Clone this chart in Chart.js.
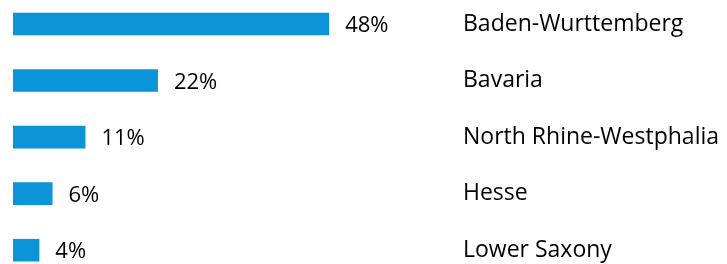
<!DOCTYPE html>
<html>
<head>
<meta charset="utf-8">
<script src="https://cdn.jsdelivr.net/npm/chart.js@4"></script>
<style>
html,body{margin:0;padding:0;background:#fff;}
#wrap{width:727px;height:264px;}
</style>
</head>
<body>
<div id="wrap"><canvas id="c" width="727" height="264"></canvas></div>
<script>
const categories = ["Baden-Wurttemberg", "Bavaria", "North Rhine-Westphalia", "Hesse", "Lower Saxony"];
const shares = [48, 22, 11, 6, 4];
const valueLabels = ["48%", "22%", "11%", "6%", "4%"];

const FONT = "'Open Sans', sans-serif";

const valueLabelPlugin = {
  id: 'valueLabels',
  afterDatasetsDraw(chart) {
    const ctx = chart.ctx;
    const meta = chart.getDatasetMeta(0);
    ctx.save();
    ctx.font = "22px " + FONT;
    ctx.fillStyle = "#000";
    ctx.textAlign = "left";
    ctx.textBaseline = "middle";
    meta.data.forEach((bar, i) => {
      ctx.fillText(valueLabels[i], bar.x + 16, bar.y + 2);
    });
    ctx.restore();
  }
};

new Chart(document.getElementById('c'), {
  type: 'bar',
  data: {
    labels: categories,
    datasets: [{
      data: shares,
      backgroundColor: '#0b95d8',
      borderWidth: 0,
      barPercentage: 0.8,
      categoryPercentage: 0.5,
      clip: false
    }]
  },
  options: {
    indexAxis: 'y',
    responsive: false,
    animation: false,
    layout: { padding: { left: 13, right: 0, top: 24, bottom: 6 } },
    plugins: { legend: { display: false }, tooltip: { enabled: false } },
    scales: {
      x: { display: false, min: 0, max: 67.1 },
      y: {
        position: 'right',
        offset: false,
        grid: { display: false },
        border: { display: false },
        ticks: { color: '#000', font: { family: FONT, size: 23 }, padding: 0 },
        afterFit(scale) { scale.width = 272; }
      }
    }
  },
  plugins: [valueLabelPlugin]
});
</script>
</body>
</html>
